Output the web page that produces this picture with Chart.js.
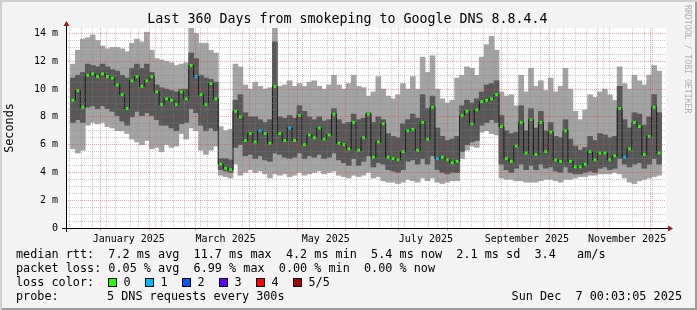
<!DOCTYPE html>
<html>
<head>
<meta charset="utf-8">
<title>Last 360 Days from smokeping to Google DNS 8.8.4.4</title>
<script src="https://cdn.jsdelivr.net/npm/chart.js@4.4.5/dist/chart.umd.min.js"></script>
<style>
  body { margin: 0; background: #fff; }
  #frame {
    position: relative; width: 697px; height: 310px; overflow: hidden;
    background: #f3f3f3;
    box-shadow: inset 2px 2px 0 #d0d0d0, inset -2px -2px 0 #9c9c9c;
    font-family: 'DejaVu Sans Mono', monospace; color: #000;
  }
  #chart { position: absolute; left: 0; top: 0; }
  .t { position: absolute; white-space: pre; font-size: 11.8px; line-height: 14px; }
  #title { position: absolute; left: 0; width: 695px; top: 12px; text-align: center;
           font-size: 13.3px; line-height: 13.3px; white-space: pre; }
  #mark { position: absolute; left: 683px; top: 5px; writing-mode: vertical-rl;
          font-size: 8.2px; line-height: 9px; color: #b0b0b0; white-space: pre; }
  .box { position: absolute; top: 278px; width: 7px; height: 7px; border: 1px solid #000; }
</style>
</head>
<body>
<div id="frame">
  <canvas id="chart" width="697" height="310"></canvas>
  <div id="title">Last 360 Days from smokeping to Google DNS 8.8.4.4</div>
  <div id="mark">RRDTOOL / TOBI OETIKER</div>
  <div class="t" style="left:16px;top:247px">median rtt:  7.2 ms avg  11.7 ms max  4.2 ms min  5.4 ms now  2.1 ms sd  3.4   am/s</div>
  <div class="t" style="left:16px;top:261px">packet loss: 0.05 % avg  6.99 % max  0.00 % min  0.00 % now</div>
  <div class="t" style="left:16px;top:275px">loss color:</div>
  <div id="losskey"></div>
  <div class="t" style="left:16px;top:289px">probe:</div>
  <div class="t" style="left:107px;top:289px">5 DNS requests every 300s</div>
  <div class="t" style="right:15px;top:289px">Sun Dec  7 00:03:05 2025</div>
</div>

<script>
// --- data: one value per 3-day bin (ms) ---
const DAY = 86400000;
const START = Date.UTC(2024, 11, 12, 0, 3, 5);
const END = START + 360 * DAY;
const BIN_DAYS = 3;

// light smoke (min .. max ping)
const pingMin = [
  5.7, 5.4, 5.6, 7.4, 7.6, 7.5, 7.6, 7.3, 7.2, 7.0,
  7.0, 6.8, 6.4, 6.2, 6.0, 6.3, 5.7, 5.8, 5.5, 6.0,
  5.8, 5.9, 6.8, 6.4, 7.2, 7.0, 5.6, 5.3, 5.6, 5.9,
  3.8, 3.7, 3.6, 4.6, 3.8, 4.0, 4.2, 4.0, 4.1, 3.9,
  3.6, 3.9, 3.8, 3.9, 3.7, 3.8, 4.0, 3.8, 3.9, 4.0,
  4.1, 3.9, 4.0, 4.1, 3.8, 3.7, 3.6, 3.8, 3.7, 3.8,
  4.0, 3.6, 3.7, 3.4, 3.3, 3.3, 3.2, 3.3, 3.5, 3.4,
  3.3, 3.6, 3.4, 3.6, 3.3, 3.2, 3.3, 3.4, 3.4, 5.0,
  5.6, 5.9, 5.8, 6.9, 7.0, 6.8, 6.7, 3.6, 3.5, 3.5,
  3.4, 3.4, 3.3, 3.3, 3.3, 3.4, 3.5, 3.5, 3.4, 3.3,
  3.5, 3.5, 3.6, 3.7, 3.7, 3.8, 3.8, 3.9, 3.9, 3.9,
  4.0, 3.9, 3.6, 3.3, 3.2, 3.4, 3.5, 3.6, 3.7, 3.8
];
const pingMax = [
  11.8, 12.8, 13.6, 13.7, 13.9, 13.5, 13.1, 12.9, 13.0, 13.0,
  12.9, 12.7, 13.3, 13.6, 13.4, 14.1, 12.8, 12.2, 12.1, 12.0,
  11.9, 11.7, 11.8, 11.9, 14.4, 14.0, 13.3, 13.3, 12.8, 12.6,
  7.3, 7.0, 7.1, 11.8, 11.6, 10.3, 10.0, 10.5, 10.2, 10.0,
  10.1, 14.4, 10.2, 10.3, 10.6, 10.2, 10.4, 10.2, 10.5, 10.6,
  10.2, 10.0, 10.3, 11.0, 10.3, 10.0, 10.4, 11.0, 10.2, 10.1,
  9.5, 9.8, 10.9, 10.0, 9.5, 9.3, 9.6, 10.4, 10.0, 10.9,
  10.0, 12.3, 11.2, 12.4, 10.0, 9.3, 9.0, 9.2, 10.8, 11.0,
  11.6, 11.5, 11.0, 12.3, 13.2, 13.8, 12.8, 9.8, 9.5, 9.6,
  8.8, 11.0, 9.8, 11.5, 10.2, 10.6, 9.9, 10.8, 9.8, 10.2,
  11.5, 10.0, 8.4, 7.8, 8.5, 9.6, 9.4, 9.8, 10.0, 9.6,
  9.2, 11.6, 10.4, 10.0, 11.0, 10.6, 10.3, 11.0, 11.7, 11.3
];
// dark smoke (inner pings)
const innerLow = [
  7.6, 7.8, 7.6, 8.7, 8.8, 8.6, 8.8, 8.6, 8.4, 8.1,
  7.7, 7.4, 8.0, 8.4, 8.1, 8.3, 8.1, 7.8, 7.4, 7.4,
  7.2, 7.0, 7.5, 7.6, 8.6, 8.3, 7.4, 7.0, 7.2, 7.0,
  4.2, 4.1, 4.0, 5.8, 6.0, 5.2, 5.3, 5.0, 5.2, 4.9,
  4.8, 5.4, 5.3, 5.1, 5.0, 5.1, 5.4, 5.0, 5.2, 5.1,
  5.3, 5.0, 5.1, 5.4, 4.9, 4.7, 4.5, 5.0, 4.5, 4.8,
  5.2, 4.4, 4.7, 4.6, 4.2, 4.1, 4.0, 4.2, 4.8, 4.9,
  4.6, 5.0, 4.6, 5.2, 4.2, 4.0, 3.9, 4.0, 4.0, 5.5,
  6.0, 6.2, 6.3, 7.4, 7.6, 7.8, 7.6, 4.6, 4.2, 4.0,
  4.3, 4.6, 4.2, 4.5, 4.2, 4.6, 4.3, 4.4, 4.1, 4.0,
  4.4, 4.0, 3.9, 3.9, 4.0, 4.1, 4.0, 4.3, 4.4, 4.2,
  4.3, 5.0, 4.6, 4.4, 4.6, 4.7, 4.3, 4.6, 5.0, 4.6
];
const innerHigh = [
  10.8, 11.0, 11.2, 11.8, 11.7, 11.6, 11.8, 11.6, 11.4, 11.3,
  11.0, 10.8, 11.5, 11.8, 11.5, 11.8, 11.2, 10.3, 10.1, 10.0,
  9.9, 9.8, 10.0, 10.0, 12.6, 12.2, 11.0, 10.8, 10.7, 10.5,
  5.0, 5.0, 4.9, 9.2, 9.6, 8.3, 8.0, 8.0, 7.8, 7.6,
  7.8, 13.4, 8.0, 7.9, 8.1, 7.9, 8.8, 8.4, 8.0, 7.8,
  8.0, 7.7, 7.8, 8.6, 7.8, 7.5, 7.6, 8.2, 7.8, 7.9,
  8.3, 7.6, 8.0, 7.8, 6.8, 6.6, 6.5, 7.5, 7.8, 8.2,
  7.9, 9.6, 8.6, 9.5, 7.2, 6.6, 6.3, 6.4, 6.6, 8.8,
  9.2, 9.0, 9.3, 9.8, 10.3, 10.4, 10.6, 8.1, 7.0, 6.8,
  6.9, 8.8, 7.0, 8.6, 7.2, 8.4, 7.0, 7.6, 6.6, 6.5,
  7.8, 6.4, 5.9, 5.6, 5.8, 6.6, 6.3, 6.8, 6.7, 6.5,
  6.6, 10.2, 7.8, 7.2, 8.3, 8.2, 7.4, 8.0, 9.6, 8.3
];
// median rtt
const medianRtt = [
  9.2, 9.9, 8.7, 11.0, 11.1, 10.9, 11.1, 10.9, 10.8, 10.3,
  9.6, 8.6, 10.6, 10.9, 10.2, 10.6, 10.9, 9.8, 8.9, 9.3,
  9.2, 8.9, 9.8, 9.3, 11.7, 10.9, 9.6, 8.9, 10.4, 9.3,
  4.6, 4.3, 4.2, 8.4, 8.0, 6.3, 6.8, 6.2, 7.0, 6.8,
  6.1, 10.2, 6.8, 6.3, 7.2, 6.3, 8.1, 6.0, 6.7, 6.5,
  7.2, 6.4, 6.7, 8.2, 6.1, 6.0, 5.7, 7.6, 5.6, 6.5,
  8.2, 5.1, 6.2, 7.5, 5.1, 5.0, 4.9, 5.5, 7.0, 7.1,
  5.6, 7.6, 6.4, 8.7, 5.0, 5.1, 4.9, 4.7, 4.8, 8.1,
  8.4, 7.5, 8.5, 9.1, 9.2, 9.3, 9.6, 7.3, 5.0, 4.8,
  5.9, 7.6, 5.4, 7.8, 5.3, 7.6, 5.5, 6.9, 4.9, 4.8,
  7.0, 4.8, 4.4, 4.4, 4.6, 5.5, 4.9, 5.4, 5.4, 4.9,
  5.2, 8.6, 5.1, 5.7, 7.6, 7.3, 5.3, 6.6, 8.7, 5.4
];
// bins where 1 of 5 requests was lost
const lossOneBins = [25, 38, 44, 74, 112];

const lossNames = ['0', '1', '2', '3', '4', '5/5'];
const lossColors = ['#26ff00', '#00b8ff', '#0059ff', '#5e00ff', '#ff0000', '#a00000'];

const yLabelled = [0, 2, 4, 6, 8, 10, 12, 14];
const labelMonths = [0, 2, 4, 6, 8, 10];
const monthNames = ['January', 'February', 'March', 'April', 'May', 'June', 'July',
  'August', 'September', 'October', 'November', 'December'];

// loss color key
const key = document.getElementById('losskey');
lossNames.forEach((n, k) => {
  const lx = 123.5 + 37 * k;
  const b = document.createElement('div');
  b.className = 'box';
  b.style.left = (lx - 15.3) + 'px';
  b.style.background = lossColors[k];
  key.appendChild(b);
  const l = document.createElement('div');
  l.className = 't';
  l.style.left = lx + 'px';
  l.style.top = '275px';
  l.textContent = n;
  key.appendChild(l);
});

// x ticks: weekly minor lines, monthly major lines, labels mid-month
const kinds = new Map();
for (let t = Date.UTC(2024, 11, 15); t < END - DAY / 2; t += 7 * DAY) kinds.set(t, 'week');
for (let m = 0; m < 12; m++) kinds.set(Date.UTC(2025, m, 1), 'month');
const labelText = new Map();
labelMonths.forEach(m => {
  const mid = (Date.UTC(2025, m, 1) + Date.UTC(2025, m + 1, 1)) / 2;
  kinds.set(mid, 'label');
  labelText.set(mid, monthNames[m] + ' 2025');
});
const xTicks = [...kinds.keys()].sort((a, b) => a - b);

const binX = i => START + (i + 0.5) * BIN_DAYS * DAY;
const PLOT_W = 600;
const BAR_W = PLOT_W / pingMin.length;

const MINOR = 'rgba(130,130,130,0.42)';
const MAJOR = 'rgba(235,50,50,0.45)';

Chart.defaults.font.family = "'DejaVu Sans Mono', monospace";
Chart.defaults.color = '#000';

const plotBack = {
  id: 'plotBack',
  beforeDraw(chart) {
    const { ctx, chartArea: a } = chart;
    ctx.save();
    ctx.fillStyle = '#fff';
    ctx.fillRect(a.left, a.top, a.right - a.left, a.bottom - a.top);
    ctx.restore();
  }
};

const axesArrows = {
  id: 'axesArrows',
  afterDraw(chart) {
    const { ctx, chartArea: a } = chart;
    ctx.save();
    ctx.strokeStyle = '#000';
    ctx.lineWidth = 1;
    ctx.beginPath();
    ctx.moveTo(a.left - 4, a.bottom + 0.5);
    ctx.lineTo(a.right + 3, a.bottom + 0.5);
    ctx.moveTo(a.left + 0.5, a.bottom + 4);
    ctx.lineTo(a.left + 0.5, a.top - 4);
    ctx.stroke();
    ctx.fillStyle = '#8e1f1f';
    ctx.beginPath();
    ctx.moveTo(a.right + 2, a.bottom - 2.5);
    ctx.lineTo(a.right + 7, a.bottom + 0.5);
    ctx.lineTo(a.right + 2, a.bottom + 3.5);
    ctx.fill();
    ctx.beginPath();
    ctx.moveTo(a.left - 2.5, a.top - 2);
    ctx.lineTo(a.left + 0.5, a.top - 7);
    ctx.lineTo(a.left + 3.5, a.top - 2);
    ctx.fill();
    ctx.restore();
  }
};

new Chart(document.getElementById('chart'), {
  data: {
    datasets: [
      {
        type: 'bar',
        data: pingMin.map((v, i) => ({ x: binX(i), y: [v, pingMax[i]] })),
        backgroundColor: '#a3a3a3',
        grouped: false, barThickness: BAR_W,
        order: 3
      },
      {
        type: 'bar',
        data: innerLow.map((v, i) => ({ x: binX(i), y: [v, innerHigh[i]] })),
        backgroundColor: '#585858',
        grouped: false, barThickness: BAR_W,
        order: 2
      },
      {
        type: 'line',
        data: medianRtt.map((v, i) => ({ x: binX(i), y: v })),
        stepped: 'middle',
        borderColor: '#1c1c1c',
        borderWidth: 1,
        pointStyle: 'rect',
        pointRadius: 2,
        pointBorderWidth: 0,
        pointBackgroundColor: medianRtt.map((v, i) => lossOneBins.includes(i) ? lossColors[1] : lossColors[0]),
        order: 1
      }
    ]
  },
  options: {
    responsive: false,
    animation: false,
    events: [],
    layout: { padding: { left: 0, top: 28, right: 31, bottom: 0 } },
    plugins: { legend: { display: false }, tooltip: { enabled: false } },
    scales: {
      x: {
        type: 'linear',
        min: START,
        max: END,
        afterFit: s => { s.height = 82; },
        afterBuildTicks: s => { s.ticks = xTicks.map(v => ({ value: v })); },
        grid: {
          z: 1,
          color: c => c.tick ? (kinds.get(c.tick.value) === 'month' ? MAJOR
                   : kinds.get(c.tick.value) === 'week' ? MINOR : 'rgba(0,0,0,0)') : MINOR,
          tickColor: c => c.tick && kinds.get(c.tick.value) === 'month' ? MAJOR : 'rgba(0,0,0,0)',
          tickLength: 3,
          borderDash: [1, 1]
        },
        border: { display: false, dash: [1, 1] },
        ticks: {
          autoSkip: false, maxRotation: 0, minRotation: 0, padding: 2,
          font: { size: 10 },
          callback: v => labelText.get(v) || ''
        }
      },
      y: {
        min: 0,
        max: 14.4,
        afterFit: s => { s.width = 66; },
        afterBuildTicks: s => {
          const t = [];
          for (let k = 0; k <= 28; k++) t.push({ value: k / 2 });
          s.ticks = t;
        },
        grid: {
          z: 1,
          color: c => c.tick && yLabelled.includes(c.tick.value) ? MAJOR : MINOR,
          drawTicks: false,
          borderDash: [1, 1]
        },
        border: { display: false, dash: [1, 1] },
        ticks: {
          autoSkip: false, padding: 8,
          font: { size: 10 },
          callback: v => v === 0 ? '0' : (yLabelled.includes(v) ? v + ' m' : '')
        },
        title: {
          display: true, text: 'Seconds', color: '#000',
          font: { size: 11.8 }, padding: { top: 3, bottom: 0 }
        }
      }
    }
  },
  plugins: [plotBack, axesArrows]
});
</script>
</body>
</html>
